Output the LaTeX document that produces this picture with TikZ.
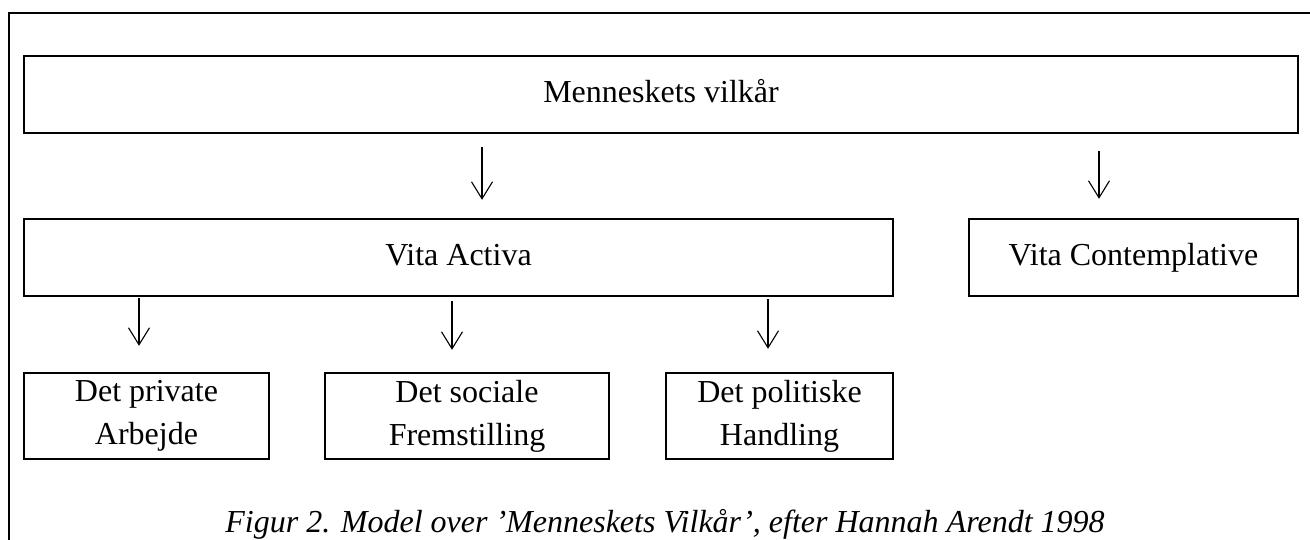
\documentclass[tikz,border=0pt]{standalone}
\usepackage{fontspec}
\setmainfont{Liberation Serif}
\usetikzlibrary{arrows.meta}
\tikzset{
  box/.style={draw=black, line width=2.4pt, inner sep=0pt, align=center,
    font=\fontsize{32}{43}\selectfont},
  onebox/.style={box, text height=22pt, text depth=7pt},
  arr/.style={draw=black, line width=1.1pt, -{Straight Barb[length=17pt,width=21pt,line width=1.1pt]}},
  framelines/.style={draw=black, line width=2.2pt},
  captiontext/.style={font=\fontsize{32}{38}\selectfont\itshape, inner sep=0pt, anchor=base}
}
\begin{document}
\begin{tikzpicture}[x=1pt,y=-1pt]
\useasboundingbox (0,0) rectangle (1310,539);
% outer frame (left and top edges visible)
\draw[framelines] (9,545) -- (9,13) -- (1320,13);

\node[onebox, minimum width=1274pt, minimum height=77pt] (top) at (661,94.5) {Menneskets vilkår};
\node[onebox, minimum width=869pt, minimum height=77pt] (va) at (458.5,257.5) {Vita Activa};
\node[onebox, minimum width=329pt, minimum height=77pt] (vc) at (1133.5,257.5) {Vita Contemplative};
\node[box, minimum width=245pt, minimum height=86pt] (b1) at (146.5,416) {Det private\\Arbejde};
\node[box, minimum width=284pt, minimum height=86pt] (b2) at (467,416) {Det sociale\\Fremstilling};
\node[box, minimum width=227pt, minimum height=86pt] (b3) at (779.5,416) {Det politiske\\Handling};

\coordinate (x1) at (482,0);
\coordinate (x2) at (1099,0);
\coordinate (x3) at (139,0);
\coordinate (x4) at (452,0);
\coordinate (x5) at (768,0);

\draw[arr, shorten <=13pt, shorten >=18pt] (top.south -| x1) -- (va.north -| x1);
\draw[arr, shorten <=17pt, shorten >=19pt] (top.south -| x2) -- (vc.north -| x2);
\draw[arr, shorten <=1pt, shorten >=26pt] (va.south -| x3) -- (b1.north -| x3);
\draw[arr, shorten <=4pt, shorten >=22pt] (va.south -| x4) -- (b2.north -| x4);
\draw[arr, shorten <=2pt, shorten >=23pt] (va.south -| x5) -- (b3.north -| x5);

\node[captiontext] (caption) at (665,532) {Figur 2. Model over ’Menneskets Vilkår’, efter Hannah Arendt 1998};
\end{tikzpicture}
\end{document}
